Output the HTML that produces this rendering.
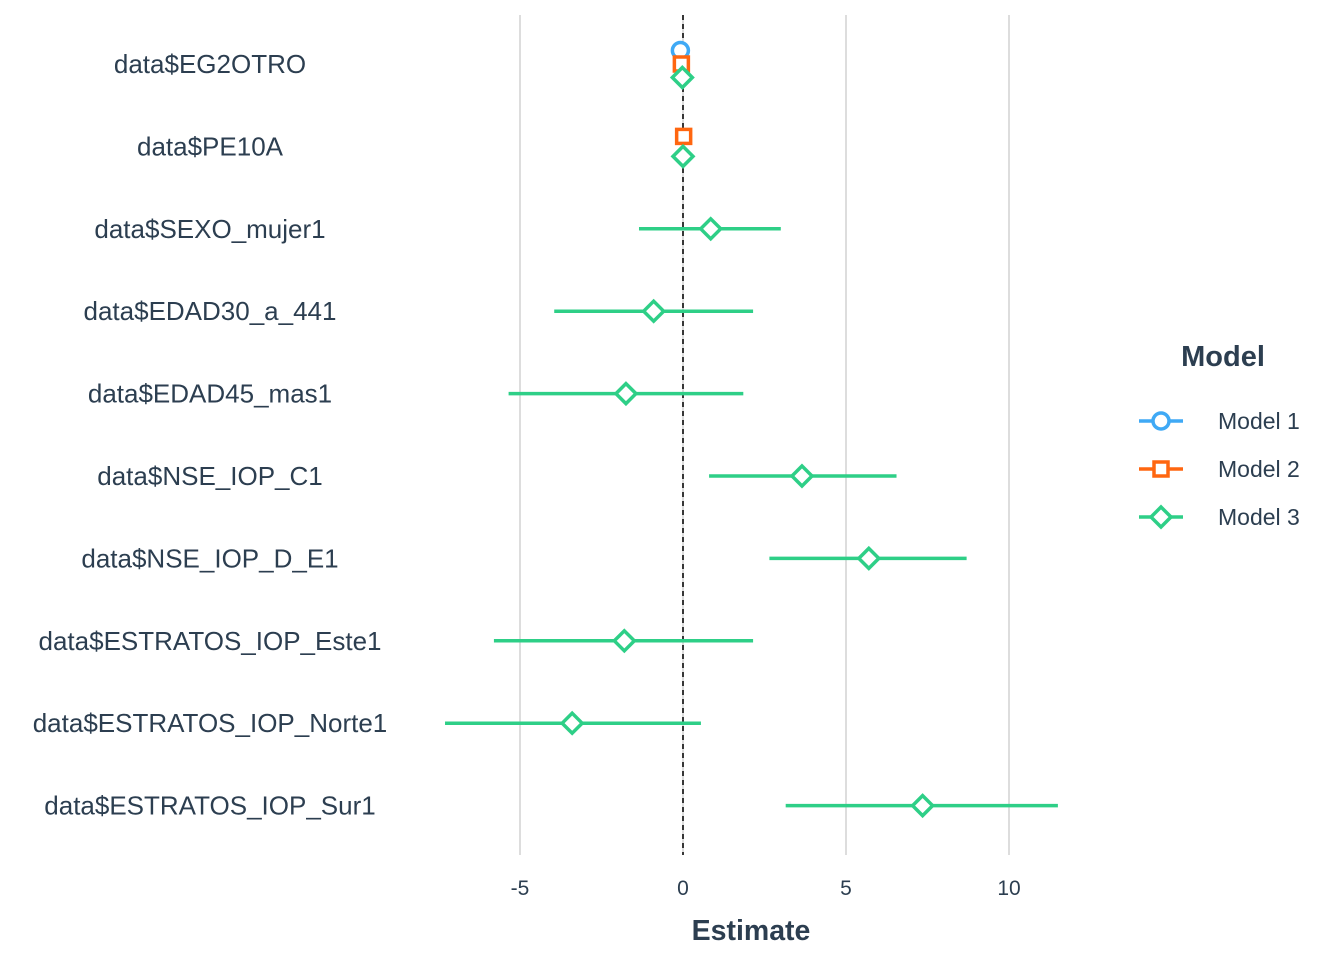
<!DOCTYPE html>
<html><head><meta charset="utf-8"><style>
body{margin:0;background:#fff;font-family:"Liberation Sans",Arial,sans-serif;}
svg text{font-family:"Liberation Sans",Arial,sans-serif;fill:#2c3e50;}
</style></head><body>
<svg id="chart" width="1344" height="960" xmlns="http://www.w3.org/2000/svg"></svg>
<script>
const terms = ["data$EG2OTRO","data$PE10A","data$SEXO_mujer1","data$EDAD30_a_441","data$EDAD45_mas1","data$NSE_IOP_C1","data$NSE_IOP_D_E1","data$ESTRATOS_IOP_Este1","data$ESTRATOS_IOP_Norte1","data$ESTRATOS_IOP_Sur1"];
const m1Est = [-0.08,null,null,null,null,null,null,null,null,null];
const m1Lo = [-0.08,null,null,null,null,null,null,null,null,null];
const m1Hi = [-0.08,null,null,null,null,null,null,null,null,null];
const m2Est = [-0.05,0.02,null,null,null,null,null,null,null,null];
const m2Lo = [-0.05,0.02,null,null,null,null,null,null,null,null];
const m2Hi = [-0.05,0.02,null,null,null,null,null,null,null,null];
const m3Est = [-0.02,0.0,0.85,-0.9,-1.75,3.65,5.7,-1.8,-3.4,7.35];
const m3Lo = [-0.02,0.0,-1.35,-3.95,-5.35,0.8,2.65,-5.8,-7.3,3.15];
const m3Hi = [-0.02,0.0,3.0,2.15,1.85,6.55,8.7,2.15,0.55,11.5];
const xTicks = [-5,0,5,10];

const svg = document.getElementById('chart');
const NS = "http://www.w3.org/2000/svg";
const x = v => 683 + v * 32.6;
const yRow = i => 64 + i * 82.4;
function mk(tag, attrs, parent){const e=document.createElementNS(NS,tag);for(const k in attrs)e.setAttribute(k,attrs[k]);(parent||svg).appendChild(e);return e;}

xTicks.forEach(t=>{
  const g=mk('line',{x1:x(t),x2:x(t),y1:15,y2:855,stroke:'#dddddd','stroke-width':2});
  
  
  const tx=mk('text',{x:x(t),y:895,'font-size':21,'text-anchor':'middle'});
  tx.textContent=t;
  
  
});
const zl=mk('line',{x1:x(0),x2:x(0),y1:15,y2:855,stroke:'#000','stroke-width':1.5,'stroke-dasharray':'5,4'});



terms.forEach((t,i)=>{
  const tx=mk('text',{x:210,y:yRow(i)+9,'font-size':26,'text-anchor':'middle'});
  tx.textContent=t;
  
  
});

const colors=['#3fa9f5','#ff6610','#2ecf87'];
function marker(kind,cx,cy,col,parent){
  let e;
  if(kind===0) e=mk('circle',{cx,cy,r:8,fill:'#fff',stroke:col,'stroke-width':3.5},parent);
  else if(kind===1) e=mk('rect',{x:cx-7,y:cy-7,width:14,height:14,fill:'#fff',stroke:col,'stroke-width':3.5},parent);
  else e=mk('polygon',{points:`${cx},${cy-10} ${cx+10},${cy} ${cx},${cy+10} ${cx-10},${cy}`,fill:'#fff',stroke:col,'stroke-width':3.5},parent);
  return e;
}
const models=[[m1Est,m1Lo,m1Hi],[m2Est,m2Lo,m2Hi],[m3Est,m3Lo,m3Hi]];
terms.forEach((t,i)=>{
  const present=[0,1,2].filter(m=>models[m][0][i]!==null);
  const n=present.length;
  present.forEach((m,k)=>{
    const off = n===1?0:(n===2?(k===0?-10:10):(k-1)*13.5);
    const cy=yRow(i)+off;
    const [e,lo,hi]=models[m];
    const ln=mk('line',{x1:x(lo[i]),x2:x(hi[i]),y1:cy,y2:cy,stroke:colors[m],'stroke-width':3.5});
    
    
    const p=marker(m,x(e[i]),cy,colors[m]);
    
    
  });
});

const at=mk('text',{x:751,y:940,'font-size':28.5,'font-weight':'bold','text-anchor':'middle'});
at.textContent='Estimate';



const lt=mk('text',{x:1223,y:366,'font-size':29,'font-weight':'bold','text-anchor':'middle'});
lt.textContent='Model';


['Model 1','Model 2','Model 3'].forEach((name,m)=>{
  const cy=421+m*48;
  const g=mk('g',{});
  
  
  mk('line',{x1:1139,x2:1183,y1:cy,y2:cy,stroke:colors[m],'stroke-width':3.5},g);
  marker(m,1161,cy,colors[m],g);
  const tx=mk('text',{x:1218,y:cy+8,'font-size':23},g);
  tx.textContent=name;
});
</script>
</body></html>
